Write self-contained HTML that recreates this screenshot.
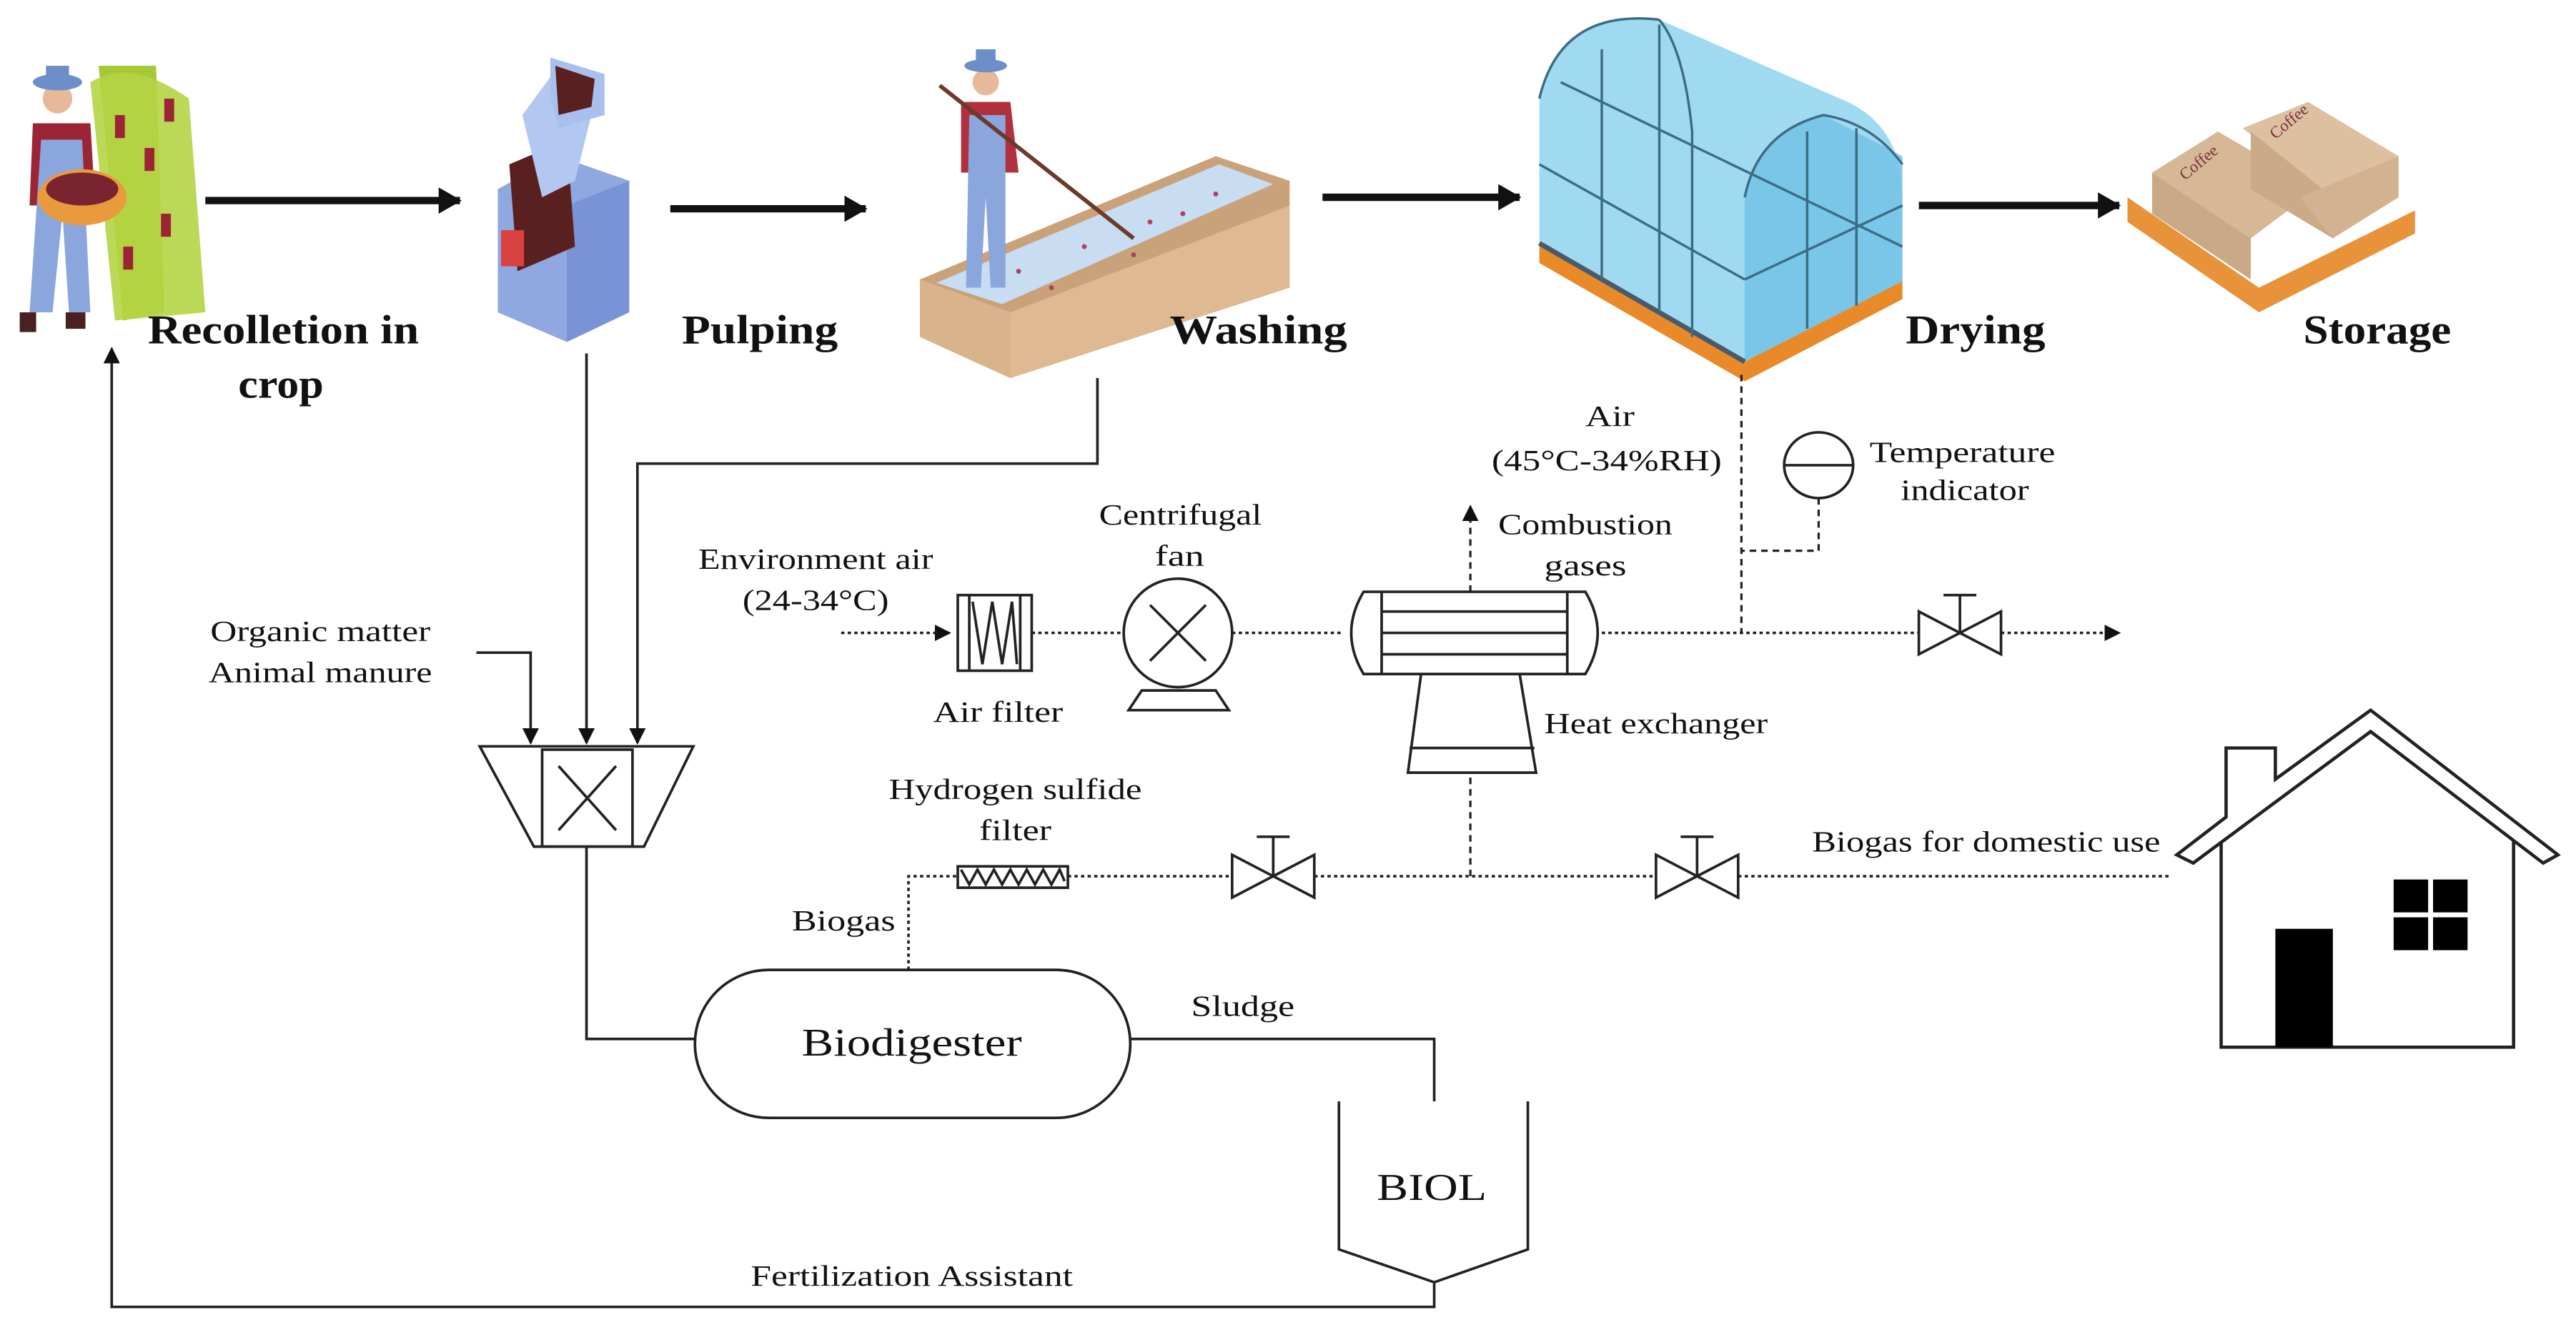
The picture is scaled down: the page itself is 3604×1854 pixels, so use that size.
<!DOCTYPE html>
<html><head><meta charset="utf-8"><style>
html,body{margin:0;padding:0;background:#fff;}
svg{display:block;}
text{font-family:"Liberation Serif",serif;fill:#111;}
.t{font-size:18px;}
.b{font-size:25px;font-weight:bold;}
</style></head><body>
<svg width="3604" height="1854" viewBox="0 0 1568 806" preserveAspectRatio="none" xmlns="http://www.w3.org/2000/svg">
<defs>
<marker id="ah" markerWidth="10" markerHeight="10" refX="9" refY="5" orient="auto" markerUnits="userSpaceOnUse"><path d="M0,0 L10,5 L0,10 z" fill="#111"/></marker>
<marker id="big" markerWidth="14" markerHeight="16" refX="13" refY="8" orient="auto" markerUnits="userSpaceOnUse"><path d="M0,0 L14,8 L0,16 z" fill="#111"/></marker>
</defs>
<rect width="1568" height="806" fill="#fff"/>

<!-- Farmer + coffee plant -->
<g>
<path d="M60,40 L95,40 L100,190 L75,195 Z" fill="#a6c93a"/>
<path d="M55,50 q25,-15 60,10 l10,130 l-55,5 z" fill="#b5d445" opacity="0.9"/>
<g fill="#9b2535"><rect x="70" y="70" width="6" height="14"/><rect x="88" y="90" width="6" height="14"/><rect x="98" y="130" width="6" height="14"/><rect x="75" y="150" width="6" height="14"/><rect x="100" y="60" width="6" height="14"/></g>
<circle cx="35" cy="60" r="9" fill="#e8b89a"/>
<ellipse cx="35" cy="50" rx="15" ry="5" fill="#6d8fc8"/>
<rect x="28" y="40" width="14" height="10" fill="#6d8fc8"/>
<path d="M20,75 L55,75 L58,125 L18,125 Z" fill="#9b2535"/>
<path d="M25,85 L50,85 L55,190 L42,190 L38,130 L32,190 L18,190 Z" fill="#8aa6dc"/>
<ellipse cx="50" cy="120" rx="27" ry="17" fill="#e89a3c"/>
<ellipse cx="50" cy="115" rx="22" ry="10" fill="#7a2430"/>
<rect x="12" y="190" width="10" height="12" fill="#4a2020"/><rect x="40" y="190" width="12" height="10" fill="#4a2020"/>
</g>

<!-- Pulper -->
<g>
<path d="M303,115 L340,95 L383,110 L383,190 L345,208 L303,190 Z" fill="#8fa8e0"/>
<path d="M345,125 L383,110 L383,190 L345,208 Z" fill="#7a93d4"/>
<path d="M310,100 L345,85 L350,150 L315,165 Z" fill="#5a2020"/>
<path d="M318,70 L340,40 L360,70 L350,110 L330,120 Z" fill="#b3c8f0"/>
<path d="M335,35 L368,45 L368,70 L340,78 L335,60 Z" fill="#a9c0ee"/>
<path d="M338,40 L362,48 L360,65 L340,70 Z" fill="#5a2020"/>
<rect x="305" y="140" width="14" height="22" fill="#d94040"/>
</g>

<!-- Washing trough + worker -->
<g>
<path d="M560,170 L740,95 L785,110 L785,175 L615,230 L560,205 Z" fill="#c9a27a"/>
<path d="M570,172 L742,100 L775,112 L610,185 Z" fill="#c8dcf2"/>
<path d="M560,170 L615,190 L615,230 L560,205 Z" fill="#d9b48a"/>
<path d="M615,190 L785,125 L785,175 L615,230 Z" fill="#deb991"/>
<g fill="#b04060"><circle cx="620" cy="165" r="1.5"/><circle cx="660" cy="150" r="1.5"/><circle cx="700" cy="135" r="1.5"/><circle cx="740" cy="118" r="1.5"/><circle cx="640" cy="175" r="1.5"/><circle cx="690" cy="155" r="1.5"/><circle cx="720" cy="130" r="1.5"/></g>
<circle cx="600" cy="50" r="8" fill="#e8b89a"/>
<ellipse cx="600" cy="40" rx="13" ry="4" fill="#6d8fc8"/><rect x="594" y="30" width="12" height="10" fill="#6d8fc8"/>
<path d="M585,62 L615,62 L620,105 L585,105 Z" fill="#b03040"/>
<path d="M590,70 L612,70 L612,175 L603,175 L600,120 L597,175 L588,175 Z" fill="#8aa6dc"/>
<line x1="572" y1="52" x2="690" y2="145" stroke="#6b3a2a" stroke-width="2.5"/>
</g>

<!-- Greenhouse -->
<g>
<path d="M937,148 L1062,220 L1158,171 L1158,182 L1062,232 L937,160 Z" fill="#e88a2a"/>
<path d="M937,148 L937,60 Q950,5 1010,12 L1120,60 Q1158,75 1158,120 L1158,171 L1062,220 Z" fill="#8fd3ee" opacity="0.85"/>
<path d="M1062,220 L1062,120 Q1070,80 1110,70 L1158,95 L1158,171 Z" fill="#6fc0e6" opacity="0.8"/>
<path d="M937,148 L1062,220" stroke="#4a5a6a" stroke-width="3"/>
<g stroke="#3d6c85" stroke-width="1.5" fill="none">
<path d="M937,60 Q950,5 1010,12"/><path d="M1010,12 Q1025,30 1030,80"/><path d="M1062,120 Q1070,80 1110,70 Q1140,75 1158,100"/>
<line x1="975" y1="30" x2="975" y2="170"/><line x1="1010" y1="15" x2="1010" y2="190"/><line x1="1030" y1="80" x2="1030" y2="205"/>
<line x1="1100" y1="80" x2="1100" y2="200"/><line x1="1130" y1="78" x2="1130" y2="186"/>
<line x1="937" y1="100" x2="1062" y2="170"/><line x1="950" y1="50" x2="1158" y2="150"/><line x1="1062" y1="170" x2="1158" y2="125"/>
</g>
</g>

<!-- Storage pallet -->
<g>
<path d="M1295,120 L1375,175 L1470,128 L1470,142 L1375,190 L1295,135 Z" fill="#e8923a"/>
<path d="M1310,105 L1350,80 L1410,115 L1370,145 Z" fill="#d6b896"/>
<path d="M1310,105 L1370,145 L1370,170 L1310,130 Z" fill="#c9a986"/>
<path d="M1365,78 L1405,62 L1460,95 L1420,120 Z" fill="#dcc0a0"/>
<path d="M1370,80 L1420,120 L1420,145 L1370,115 Z" fill="#cbaa88"/>
<path d="M1400,120 L1460,95 L1460,120 L1420,145 Z" fill="#d2b290"/>
<text x="1330" y="110" style="font-size:10px;fill:#7a3040" transform="rotate(-40 1330 110)">Coffee</text>
<text x="1385" y="85" style="font-size:10px;fill:#7a3040" transform="rotate(-40 1385 85)">Coffee</text>
</g>

<!-- Top arrows -->
<g stroke="#111" stroke-width="4.5">
<line x1="125" y1="122" x2="280" y2="122" marker-end="url(#big)"/>
<line x1="408" y1="127" x2="527" y2="127" marker-end="url(#big)"/>
<line x1="805" y1="120" x2="925" y2="120" marker-end="url(#big)"/>
<line x1="1168" y1="125" x2="1290" y2="125" marker-end="url(#big)"/>
</g>
<g lengthAdjust="spacingAndGlyphs">
<text class="b" x="90" y="209" textLength="165" lengthAdjust="spacingAndGlyphs">Recolletion in</text>
<text class="b" x="145" y="242" textLength="52" lengthAdjust="spacingAndGlyphs">crop</text>
<text class="b" x="415" y="209" textLength="95" lengthAdjust="spacingAndGlyphs">Pulping</text>
<text class="b" x="712" y="209" textLength="108" lengthAdjust="spacingAndGlyphs">Washing</text>
<text class="b" x="1160" y="209" textLength="85" lengthAdjust="spacingAndGlyphs">Drying</text>
<text class="b" x="1402" y="209" textLength="90" lengthAdjust="spacingAndGlyphs">Storage</text>
</g>

<!-- Solid process lines -->
<g stroke="#222" stroke-width="1.6" fill="none">
<line x1="357" y1="215" x2="357" y2="452" marker-end="url(#ah)"/>
<polyline points="668,230 668,282 388,282 388,452" marker-end="url(#ah)"/>
<polyline points="290,397 323,397 323,452" marker-end="url(#ah)"/>
<polygon points="292,454 422,454 392,515 325,515"/>
<rect x="330" y="456" width="55" height="59"/>
<line x1="340" y1="466" x2="375" y2="505"/><line x1="375" y1="466" x2="340" y2="505"/>
<polyline points="357,515 357,632 423,632"/>
<rect x="423" y="590" width="265" height="90" rx="45" ry="45"/>
<polyline points="688,632 873,632 873,670"/>
<polyline points="815,670 815,760 873,780 930,760 930,670"/>
<polyline points="873,780 873,795 68,795 68,212" marker-end="url(#ah)"/>
</g>
<text class="t" x="128" y="390" textLength="134" lengthAdjust="spacingAndGlyphs">Organic matter</text>
<text class="t" x="127" y="415" textLength="136" lengthAdjust="spacingAndGlyphs">Animal manure</text>
<text x="488" y="642" style="font-size:24px" textLength="134" lengthAdjust="spacingAndGlyphs">Biodigester</text>
<text class="t" x="725" y="618" textLength="63" lengthAdjust="spacingAndGlyphs">Sludge</text>
<text x="838" y="730" style="font-size:23px" textLength="67" lengthAdjust="spacingAndGlyphs">BIOL</text>
<text class="t" x="457" y="782" textLength="196" lengthAdjust="spacingAndGlyphs">Fertilization Assistant</text>

<!-- Dotted lines -->
<g stroke="#222" stroke-width="1.6" fill="none" stroke-dasharray="2,2">
<polyline points="553,590 553,533 583,533"/>
<line x1="650" y1="533" x2="750" y2="533"/>
<line x1="800" y1="533" x2="1008" y2="533"/>
<line x1="1058" y1="533" x2="1322" y2="533"/>
<line x1="512" y1="385" x2="578" y2="385" marker-end="url(#ah)"/>
<line x1="628" y1="385" x2="684" y2="385"/>
<line x1="750" y1="385" x2="818" y2="385"/>
<line x1="975" y1="385" x2="1168" y2="385"/>
<line x1="1218" y1="385" x2="1290" y2="385" marker-end="url(#ah)"/>
</g>
<g stroke="#222" stroke-width="1.4" fill="none" stroke-dasharray="4,3">
<line x1="895" y1="533" x2="895" y2="472"/>
<line x1="895" y1="360" x2="895" y2="308" marker-end="url(#ah)"/>
<line x1="1060" y1="228" x2="1060" y2="385"/>
<polyline points="1107,303 1107,335 1060,335"/>
</g>

<!-- Equipment -->
<g stroke="#222" stroke-width="1.6" fill="#fff">
<rect x="583" y="527" width="67" height="13"/>
<polyline fill="none" points="585,529 590,538 595,529 600,538 605,529 610,538 615,529 620,538 625,529 630,538 635,529 640,538 645,529 648,536"/>
<path d="M750,520 L800,546 L800,520 L750,546 Z"/><line x1="775" y1="533" x2="775" y2="509"/><line x1="765" y1="509" x2="785" y2="509"/>
<path d="M1008,520 L1058,546 L1058,520 L1008,546 Z"/><line x1="1033" y1="533" x2="1033" y2="509"/><line x1="1023" y1="509" x2="1043" y2="509"/>
<path d="M1168,372 L1218,398 L1218,372 L1168,398 Z"/><line x1="1193" y1="385" x2="1193" y2="362"/><line x1="1183" y1="362" x2="1203" y2="362"/>
<rect x="583" y="362" width="45" height="46"/>
<line x1="590" y1="362" x2="590" y2="408"/><line x1="621" y1="362" x2="621" y2="408"/>
<polyline fill="none" points="592,366 598,404 604,366 610,404 616,366 619,404"/>
<path d="M695,420 L740,420 L748,432 L687,432 Z"/>
<circle cx="717" cy="385" r="33"/>
<line x1="700" y1="368" x2="734" y2="402"/><line x1="734" y1="368" x2="700" y2="402"/>
<path d="M865,410 L925,410 L935,470 L857,470 Z"/>
<line x1="858" y1="455" x2="934" y2="455"/>
<path d="M830,360 L965,360 Q980,385 965,410 L830,410 Q815,385 830,360 Z"/>
<line x1="841" y1="360" x2="841" y2="410"/><line x1="954" y1="360" x2="954" y2="410"/>
<line x1="841" y1="372" x2="954" y2="372"/><line x1="841" y1="385" x2="954" y2="385"/><line x1="841" y1="398" x2="954" y2="398"/>
<ellipse cx="1107" cy="283" rx="21" ry="20"/><line x1="1086" y1="283" x2="1128" y2="283"/>
</g>

<text class="t" x="482" y="566" textLength="63" lengthAdjust="spacingAndGlyphs">Biogas</text>
<text class="t" x="541" y="486" textLength="154" lengthAdjust="spacingAndGlyphs">Hydrogen sulfide</text>
<text class="t" x="596" y="511" textLength="44" lengthAdjust="spacingAndGlyphs">filter</text>
<text class="t" x="425" y="346" textLength="143" lengthAdjust="spacingAndGlyphs">Environment air</text>
<text class="t" x="452" y="371" textLength="89" lengthAdjust="spacingAndGlyphs">(24-34°C)</text>
<text class="t" x="669" y="319" textLength="99" lengthAdjust="spacingAndGlyphs">Centrifugal</text>
<text class="t" x="703" y="344" textLength="30" lengthAdjust="spacingAndGlyphs">fan</text>
<text class="t" x="568" y="439" textLength="79" lengthAdjust="spacingAndGlyphs">Air filter</text>
<text class="t" x="912" y="325" textLength="106" lengthAdjust="spacingAndGlyphs">Combustion</text>
<text class="t" x="940" y="350" textLength="50" lengthAdjust="spacingAndGlyphs">gases</text>
<text class="t" x="940" y="446" textLength="136" lengthAdjust="spacingAndGlyphs">Heat exchanger</text>
<text class="t" x="965" y="259" textLength="30" lengthAdjust="spacingAndGlyphs">Air</text>
<text class="t" x="908" y="286" textLength="140" lengthAdjust="spacingAndGlyphs">(45°C-34%RH)</text>
<text class="t" x="1138" y="281" textLength="113" lengthAdjust="spacingAndGlyphs">Temperature</text>
<text class="t" x="1157" y="304" textLength="78" lengthAdjust="spacingAndGlyphs">indicator</text>
<text class="t" x="1103" y="518" textLength="212" lengthAdjust="spacingAndGlyphs">Biogas for domestic use</text>

<!-- House -->
<g stroke="#222" stroke-width="2" fill="#fff">
<polyline fill="none" points="1352,500 1352,637 1530,637 1530,500"/>
<path d="M1325,520 L1355,497 L1355,455 L1385,455 L1385,474 L1443,432 L1557,520 L1548,525 L1443,445 L1335,525 Z"/>
</g>
<rect x="1385" y="565" width="35" height="72" fill="#000"/>
<g fill="#000"><rect x="1457" y="535" width="21" height="20"/><rect x="1481" y="535" width="21" height="20"/><rect x="1457" y="558" width="21" height="20"/><rect x="1481" y="558" width="21" height="20"/></g>
</svg>
</body></html>
